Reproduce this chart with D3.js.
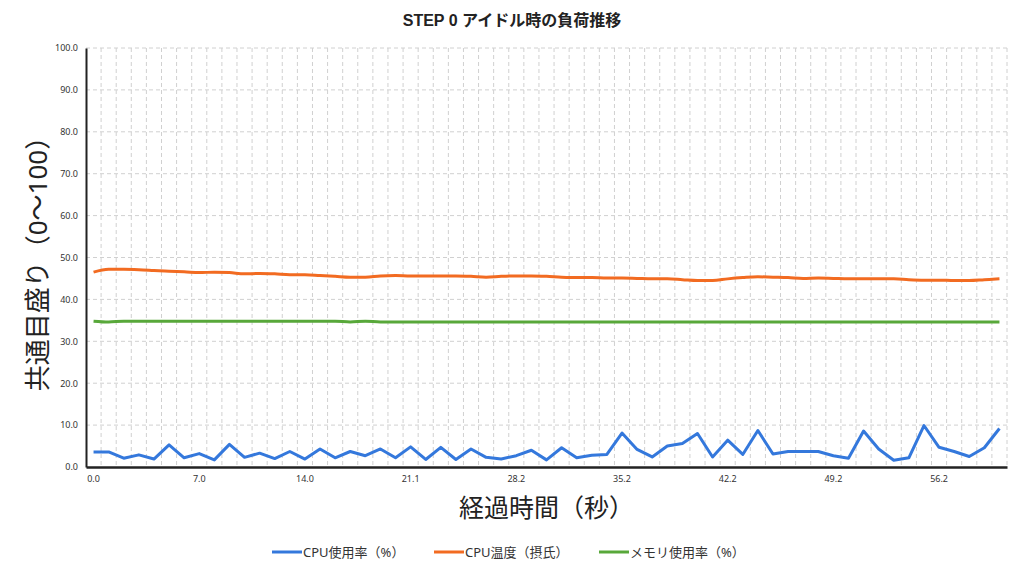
<!DOCTYPE html>
<html><head><meta charset="utf-8">
<script src="https://cdn.jsdelivr.net/npm/d3@7"></script>
<style>
html,body{margin:0;padding:0;background:#fff;}
svg{display:block;}
text{font-family:"Noto Sans","Noto Sans CJK JP",sans-serif;}
</style></head>
<body>
<svg id="chart" width="1024" height="576"></svg>
<script>
const chartTitle = "STEP 0 アイドル時の負荷推移";
const xTitle = "経過時間（秒）";
const yTitle = "共通目盛り（0〜100）";
const seriesNames = ["CPU使用率（%）", "CPU温度（摂氏）", "メモリ使用率（%）"];
const xTickLabels = ["0.0","7.0","14.0","21.1","28.2","35.2","42.2","49.2","56.2"];
const xTickEvery = 7;
const yTicks = [0,10,20,30,40,50,60,70,80,90,100];

const cpuUsage = [3.6,3.6,2.1,2.9,1.9,5.3,2.2,3.2,1.7,5.4,2.3,3.3,2.0,3.7,1.9,4.3,
  2.2,3.7,2.7,4.3,2.2,4.8,1.8,4.7,1.8,4.3,2.3,1.9,2.7,4.0,1.7,
  4.6,2.2,2.8,3.0,8.1,4.2,2.4,5.0,5.6,8.0,2.4,6.4,3.0,8.7,3.1,
  3.7,3.7,3.7,2.7,2.1,8.6,4.3,1.6,2.2,9.9,4.7,3.7,2.5,4.6,9.2];
const cpuTemp = [46.5,47.2,47.2,47.1,46.9,46.7,46.6,46.4,46.5,46.4,46.1,46.2,46.1,45.9,45.9,45.7,
  45.5,45.3,45.3,45.6,45.7,45.6,45.6,45.6,45.6,45.5,45.3,45.5,45.6,45.6,45.5,
  45.3,45.2,45.2,45.1,45.1,45.0,44.9,44.9,44.7,44.5,44.5,44.9,45.2,45.4,45.3,
  45.2,45.0,45.1,45.0,44.9,44.9,44.9,44.9,44.7,44.6,44.6,44.5,44.5,44.7,44.9];
const memUsage = [34.8,34.6,34.8,34.8,34.8,34.8,34.8,34.8,34.8,34.8,34.8,34.8,34.8,34.8,34.8,34.8,
  34.8,34.6,34.8,34.6,34.6,34.6,34.6,34.6,34.6,34.6,34.6,34.6,34.6,34.6,34.6,
  34.6,34.6,34.6,34.6,34.6,34.6,34.6,34.6,34.6,34.6,34.6,34.6,34.6,34.6,34.6,
  34.6,34.6,34.6,34.6,34.6,34.6,34.6,34.6,34.6,34.6,34.6,34.6,34.6,34.6,34.6];
const colors = ["#3478dc", "#f26b21", "#58a83a"];

(function () {
const svg = d3.select("#chart");
const pLeft = 86, pRight = 1007, pTop = 48, pBottom = 467;
const n = cpuUsage.length;
const idx = d3.range(n);

const x = d3.scaleBand().domain(idx).range([pLeft, pRight]);
const y = d3.scaleLinear().domain([0, 100]).range([pBottom, pTop]);
const cx = i => x(i) + x.bandwidth() / 2;

// horizontal gridlines
svg.append("g").selectAll("line").data(yTicks.filter(t => t > 0)).join("line")
  .attr("x1", pLeft).attr("x2", pRight)
  .attr("y1", d => y(d)).attr("y2", d => y(d))
  .attr("stroke", "#d0d0d0").attr("stroke-width", 1).attr("stroke-dasharray", "4,3");
// vertical gridlines at category boundaries
svg.append("g").selectAll("line").data(d3.range(1, n + 1)).join("line")
  .attr("x1", d => pLeft + d * x.bandwidth()).attr("x2", d => pLeft + d * x.bandwidth())
  .attr("y1", pTop).attr("y2", pBottom)
  .attr("stroke", "#d0d0d0").attr("stroke-width", 1).attr("stroke-dasharray", "4,3");

// y axis
const yAxis = d3.axisLeft(y).tickValues(yTicks).tickFormat(d3.format(".1f")).tickSize(0).tickPadding(8);
const gy = svg.append("g").attr("transform", `translate(${pLeft},0)`).call(yAxis);
gy.select(".domain").attr("stroke", "#222").attr("stroke-width", 2);
gy.selectAll("text").attr("font-size", 9).attr("fill", "#333");

// x axis
const xAxis = d3.axisBottom(x)
  .tickValues(idx.filter(i => i % xTickEvery === 0 && i / xTickEvery < xTickLabels.length))
  .tickFormat(i => xTickLabels[i / xTickEvery]).tickSize(0).tickPadding(9);
const gx = svg.append("g").attr("transform", `translate(0,${pBottom})`).call(xAxis);
gx.select(".domain").attr("stroke", "#222").attr("stroke-width", 2.5);
gx.selectAll("text").attr("font-size", 9).attr("fill", "#333");

// lines
const straight = d3.line().x((d, i) => cx(i)).y(d => y(d));
const smooth = d3.line().x((d, i) => cx(i)).y(d => y(d)).curve(d3.curveMonotoneX);
svg.append("path").datum(memUsage).attr("d", smooth).attr("fill", "none")
  .attr("stroke", colors[2]).attr("stroke-width", 3);
svg.append("path").datum(cpuTemp).attr("d", smooth).attr("fill", "none")
  .attr("stroke", colors[1]).attr("stroke-width", 3);
svg.append("path").datum(cpuUsage).attr("d", straight).attr("fill", "none")
  .attr("stroke", colors[0]).attr("stroke-width", 3).attr("stroke-linejoin", "round");

// titles
svg.append("text").attr("x", 512).attr("y", 26).attr("text-anchor", "middle")
  .attr("font-size", 16).attr("font-weight", "bold").attr("fill", "#222")
  .style("font-family", '"Liberation Sans","Noto Sans CJK JP",sans-serif')
  .text(chartTitle);
svg.append("text").attr("x", (pLeft + pRight) / 2).attr("y", 517).attr("text-anchor", "middle")
  .attr("font-size", 25).attr("fill", "#222").text(xTitle);
svg.append("text").attr("transform", `translate(47,${(pTop + pBottom) / 2}) rotate(-90)`)
  .attr("text-anchor", "middle").attr("font-size", 26).attr("fill", "#222").text(yTitle);

// legend
const legendX = [272, 434, 599];
const lg = svg.append("g");
seriesNames.forEach((name, i) => {
  lg.append("line").attr("x1", legendX[i]).attr("x2", legendX[i] + 30)
    .attr("y1", 552).attr("y2", 552).attr("stroke", colors[i]).attr("stroke-width", 3);
  lg.append("text").attr("x", legendX[i] + 31).attr("y", 557)
    .attr("font-size", 13).attr("fill", "#333").text(name);
});
})();
</script>
</body></html>
